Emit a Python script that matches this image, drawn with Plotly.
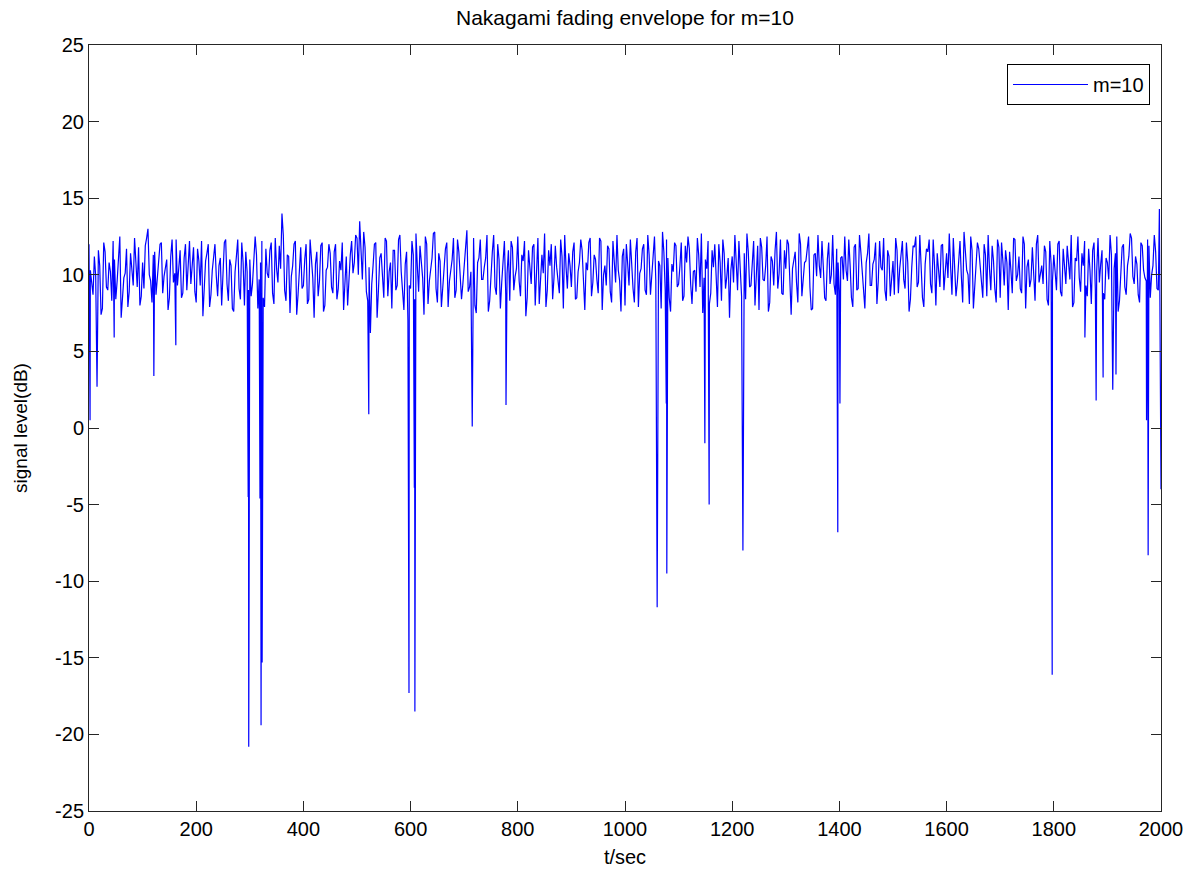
import plotly.graph_objects as go

# samples every 5 s starting at t = 0 (t = 0 .. 1995)
base_step = 5
base_values = [
    12.0, 9.5, 11.2, 8.1, 10.6, 7.8, 11.5, 9.0, 10.2, 12.2, 8.4, 10.9, 7.2, 9.8, 11.7, 8.9, 10.5, 12.4, 9.2, 8.0,
    10.8, 11.9, 13.0, 9.6, 11.3, 8.7, 10.4, 12.1, 9.9, 11.0, 8.5, 12.3, 10.1, 9.3, 11.6, 8.8, 12.0, 10.7, 9.4, 11.8,
    8.2, 10.9, 12.2, 9.0, 11.4, 7.9, 10.3, 12.0, 8.6, 11.1, 9.7, 12.3, 8.3, 10.6, 7.6, 11.2, 9.1, 12.1, 8.0, 10.2,
    11.0, 9.4, 12.5, 7.8, 10.8, 8.5, 11.7, 9.8, 12.1, 8.1, 10.4, 11.9, 14.0, 9.0, 11.3, 7.5, 10.6, 12.2, 8.7, 11.8,
    9.3, 12.0, 8.4, 10.9, 7.2, 11.5, 9.6, 12.1, 8.0, 10.5, 11.4, 8.8, 12.0, 9.1, 10.3, 7.7, 11.2, 9.9, 12.2, 10.8,
    12.4, 13.5, 9.7, 11.8, 8.3, 6.2, 10.6, 12.1, 9.0, 11.4, 8.5, 12.2, 10.2, 7.8, 11.6, 9.3, 12.6, 8.6, 10.7, 7.0,
    9.1, 11.3, 12.7, 8.9, 10.5, 7.4, 12.0, 9.6, 11.1, 12.8, 8.2, 10.9, 9.4, 11.7, 7.9, 10.3, 12.4, 9.0, 11.5, 8.4,
    10.6, 12.9, 9.2, 11.4, 8.0, 10.8, 12.3, 9.7, 11.1, 7.6, 10.4, 12.6, 8.7, 11.0, 9.5, 12.2, 10.1, 8.3, 11.8, 9.9,
    12.5, 8.6, 10.9, 7.3, 11.6, 9.4, 12.0, 10.2, 8.1, 11.3, 12.7, 9.0, 10.6, 8.4, 11.9, 9.7, 12.3, 7.8, 10.5, 11.4,
    9.2, 12.1, 8.5, 10.8, 11.6, 7.7, 10.3, 12.4, 9.5, 11.0, 8.8, 12.2, 10.0, 9.3, 11.7, 8.2, 10.9, 12.6, 9.6, 11.2,
    8.0, 10.7, 12.3, 9.1, 11.5, 7.9, 10.4, 12.0, 8.7, 11.3, 9.8, 12.5, 8.3, 10.6, 12.8, 9.0, 11.1, 7.6, 10.2, 11.9,
    9.4, 12.1, 8.6, 10.8, 11.7, 8.1, 10.3, 12.4, 9.2, 7.5, 11.0, 12.2, 8.8, 10.5, 9.7, 12.0, 8.3, 11.4, 9.9, 7.2,
    11.2, 12.6, 9.0, 10.7, 13.1, 8.4, 11.5, 9.3, 12.2, 10.1, 7.7, 11.8, 9.6, 12.5, 8.2, 10.9, 11.6, 9.1, 12.3, 8.7,
    10.4, 12.0, 7.4, 11.1, 9.5, 12.7, 8.6, 10.8, 11.9, 9.2, 7.8, 11.4, 12.6, 9.8, 10.5, 8.3, 12.1, 10.0, 9.4, 11.7,
    8.9, 11.2, 12.5, 9.6, 10.6, 7.9, 12.0, 9.1, 11.5, 8.4, 10.8, 12.7, 9.3, 11.0, 8.1, 12.2, 10.3, 9.0, 11.6, 8.6,
    10.9, 12.4, 8.8, 11.3, 9.7, 12.1, 7.6, 10.5, 11.8, 9.2, 12.6, 8.5, 10.7, 11.5, 9.4, 12.3, 8.0, 10.2, 11.9, 9.0,
    11.4, 12.7, 8.7, 10.6, 9.5, 12.2, 8.2, 11.1, 10.0, 12.5, 7.8, 10.8, 11.7, 9.3, 12.0, 8.6, 10.4, 11.9, 9.1, 12.3,
    8.5, 10.9, 11.6, 7.7, 10.3, 12.4, 9.6, 11.2, 8.8, 12.0, 10.5, 9.2, 11.8, 8.3, 12.6, 10.1, 9.4, 11.5, 8.0, 10.7,
    11.3, 9.0, 12.2, 8.6, 10.4, 11.9, 9.7, 7.9, 11.1, 12.5, 8.9, 10.6, 9.3, 11.7, 8.1, 12.1, 10.2, 9.5, 11.6, 8.4,
    10.8, 12.6, 9.1, 11.4, 7.6, 10.3, 12.0, 8.7, 11.2, 12.4, 9.4, 10.7, 8.2, 11.9, 9.8, 12.3, 8.5, 10.6, 11.5, 9.0,
]

# samples every 5 s starting at t = 2.5 (t = 2.5 .. 1997.5)
mid_start = 2.5
mid_values = [
    10.3, 8.7, 9.9, 11.6, 7.4, 12.1, 9.2, 10.8, 8.3, 11.0, 9.6, 12.5, 8.9, 10.1, 7.9, 11.4, 9.3, 10.7, 11.8, 8.6,
    9.1, 12.4, 10.0, 8.2, 11.5, 9.8, 12.0, 8.8, 10.6, 7.7, 11.2, 9.5, 12.3, 10.4, 8.5, 11.1, 9.0, 12.2, 10.5, 8.9,
    11.7, 9.3, 7.3, 10.9, 12.0, 8.7, 11.3, 9.9, 10.6, 8.0, 12.1, 9.4, 11.0, 7.8, 10.2, 12.3, 8.4, 10.8, 11.5, 9.0,
    8.6, 10.9, 11.3, 9.7, 12.2, 7.9, 10.1, 11.6, 8.8, 12.4, 9.5, 10.4, 12.6, 8.3, 11.2, 9.9, 12.0, 7.4, 10.5, 9.1,
    11.0, 8.1, 12.3, 9.8, 10.7, 8.6, 11.9, 7.6, 10.3, 12.0, 9.2, 11.5, 8.4, 10.9, 12.1, 9.5, 8.0, 11.3, 10.1, 12.6,
    10.0, 11.7, 12.8, 8.9, 10.5, 9.4, 12.0, 7.2, 11.1, 9.7, 12.4, 8.6, 10.8, 11.6, 9.0, 12.3, 10.2, 7.7, 11.5, 9.3,
    12.2, 8.4, 10.6, 11.9, 9.8, 12.5, 8.1, 10.3, 12.7, 9.1, 11.4, 7.9, 10.7, 12.1, 9.6, 11.0, 8.5, 12.3, 10.1, 9.4,
    11.8, 8.9, 10.2, 12.4, 7.5, 11.1, 9.7, 10.5, 12.6, 8.3, 11.5, 9.2, 12.0, 7.8, 10.9, 8.7, 11.6, 12.2, 9.0, 10.4,
    9.6, 11.3, 12.2, 8.5, 10.7, 11.8, 8.0, 12.4, 9.4, 10.1, 7.9, 11.6, 12.0, 9.8, 10.5, 8.8, 11.2, 12.6, 9.1, 10.6,
    11.5, 8.4, 10.2, 12.3, 9.0, 10.8, 12.1, 8.6, 11.3, 9.7, 12.4, 7.7, 10.6, 11.9, 8.9, 12.2, 9.5, 10.3, 7.6, 11.7,
    12.0, 9.3, 10.5, 8.2, 12.4, 10.1, 11.7, 9.0, 12.6, 8.7, 11.2, 9.6, 10.9, 7.8, 11.5, 12.3, 8.5, 10.7, 12.1, 9.2,
    10.6, 8.3, 11.9, 12.5, 9.4, 10.2, 8.9, 11.3, 12.7, 9.8, 10.4, 8.1, 11.6, 12.0, 7.9, 10.8, 12.3, 9.1, 11.1, 10.3,
    9.5, 10.8, 12.2, 8.6, 11.4, 12.7, 9.2, 10.5, 8.0, 11.9, 12.4, 9.7, 10.6, 7.6, 11.2, 9.3, 12.8, 10.1, 8.8, 11.6,
    12.3, 8.9, 10.4, 11.5, 8.2, 12.0, 9.6, 10.9, 12.5, 7.7, 11.3, 9.9, 10.6, 12.2, 8.5, 11.0, 9.4, 12.6, 8.7, 10.8,
    11.1, 9.7, 10.3, 12.3, 8.5, 11.8, 9.0, 12.6, 10.2, 7.8, 11.4, 9.3, 10.7, 12.1, 9.6, 10.5, 12.4, 8.3, 11.2, 9.9,
    8.7, 11.6, 10.4, 12.2, 9.1, 10.8, 8.4, 11.9, 12.5, 9.5, 10.2, 7.9, 11.7, 12.3, 8.8, 10.6, 11.4, 9.2, 12.0, 10.1,
    9.8, 10.5, 12.4, 8.6, 11.2, 9.9, 12.8, 10.3, 8.1, 11.6, 9.4, 12.1, 10.7, 8.5, 11.3, 12.6, 9.0, 10.9, 8.2, 11.8,
    12.1, 9.3, 10.8, 11.5, 8.8, 12.3, 10.0, 9.1, 12.5, 7.8, 11.0, 9.7, 10.4, 12.0, 9.5, 10.6, 11.9, 8.4, 12.2, 9.6,
    10.2, 12.0, 8.9, 11.7, 9.4, 10.5, 12.6, 8.2, 10.9, 9.8, 11.4, 12.2, 8.6, 10.3, 11.6, 9.0, 12.4, 10.7, 8.8, 11.1,
    9.7, 11.3, 10.4, 12.5, 8.3, 11.8, 9.2, 10.6, 12.7, 9.9, 11.2, 8.7, 12.1, 10.3, 9.6, 11.9, 10.0, 12.6, 9.1, 11.0,
]

# deep fades (t in s, level in dB)
fade_t = [2, 15, 47, 121, 162, 297, 298, 319, 321, 323, 522, 596, 597, 607, 608, 715, 778,
          1059, 1060, 1077, 1078, 1149, 1156, 1157, 1220, 1397, 1401, 1797, 1858, 1879, 1892,
          1910, 1916, 1973, 1976, 1997, 1999, 2000]
fade_v = [0.5, 2.7, 5.9, 3.4, 5.4, -4.5, -20.8, -4.6, -19.4, -15.3, 0.9, -3.2, -17.3, -3.9, -18.5, 0.1, 1.5,
          0.7, -11.7, 1.6, -9.5, -1.0, 1.3, -5.0, -8.0, -6.8, 1.6, -16.1, 5.9, 1.8, 3.3,
          2.5, 3.5, 0.5, -8.3, 14.3, 4.0, -4.0]

x_ticks = [0, 200, 400, 600, 800, 1000, 1200, 1400, 1600, 1800, 2000]
y_ticks = [-25, -20, -15, -10, -5, 0, 5, 10, 15, 20, 25]
y_tick_labels = ["-25", "-20", "-15", "-10", "-5", "0", "5", "10", "15", "20", "25"]

samples = {i * base_step: v for i, v in enumerate(base_values)}
for i, v in enumerate(mid_values):
    samples[mid_start + i * base_step] = v
for t, v in zip(fade_t, fade_v):
    samples[t] = v
t_all = sorted(samples)
v_all = [samples[t] for t in t_all]

font = "Liberation Sans, Arial, sans-serif"
fig = go.Figure()
fig.add_trace(go.Scatter(x=t_all, y=v_all, mode="lines", name="m=10",
                         line=dict(color="#0000ff", width=1.2)))

axis_common = dict(showgrid=False, zeroline=False, showline=True, linecolor="#262626",
                   linewidth=1, mirror="ticks", ticks="inside", ticklen=10,
                   tickcolor="#262626", tickfont=dict(size=20, color="#000000", family=font))
fig.update_xaxes(range=[0, 2000], tickvals=x_ticks,
                 title=dict(text="t/sec", font=dict(size=20, family=font, color="#000000"), standoff=10),
                 **axis_common)
fig.update_yaxes(range=[-25, 25], tickvals=y_ticks, ticktext=y_tick_labels,
                 title=dict(text="signal level(dB)", font=dict(size=19, family=font, color="#000000"), standoff=22),
                 **axis_common)

fig.update_layout(
    width=1198, height=879,
    margin=dict(l=89, r=37, t=45, b=68),
    paper_bgcolor="white", plot_bgcolor="white",
    font=dict(family=font, color="#000000"),
    title=dict(text="Nakagami fading envelope for m=10", x=(89 + 1161) / 2 / 1198, xanchor="center",
               y=1 - 18 / 879, yanchor="middle", font=dict(size=21, family=font, color="#000000")),
    legend=dict(x=(1150 - 89) / 1072, xanchor="right", y=(811 - 64) / 766, yanchor="top",
                bordercolor="#000000", borderwidth=1, bgcolor="white", itemwidth=75,
                font=dict(size=20, family=font, color="#000000")),
    showlegend=True,
)

fig.write_html("out.html")
